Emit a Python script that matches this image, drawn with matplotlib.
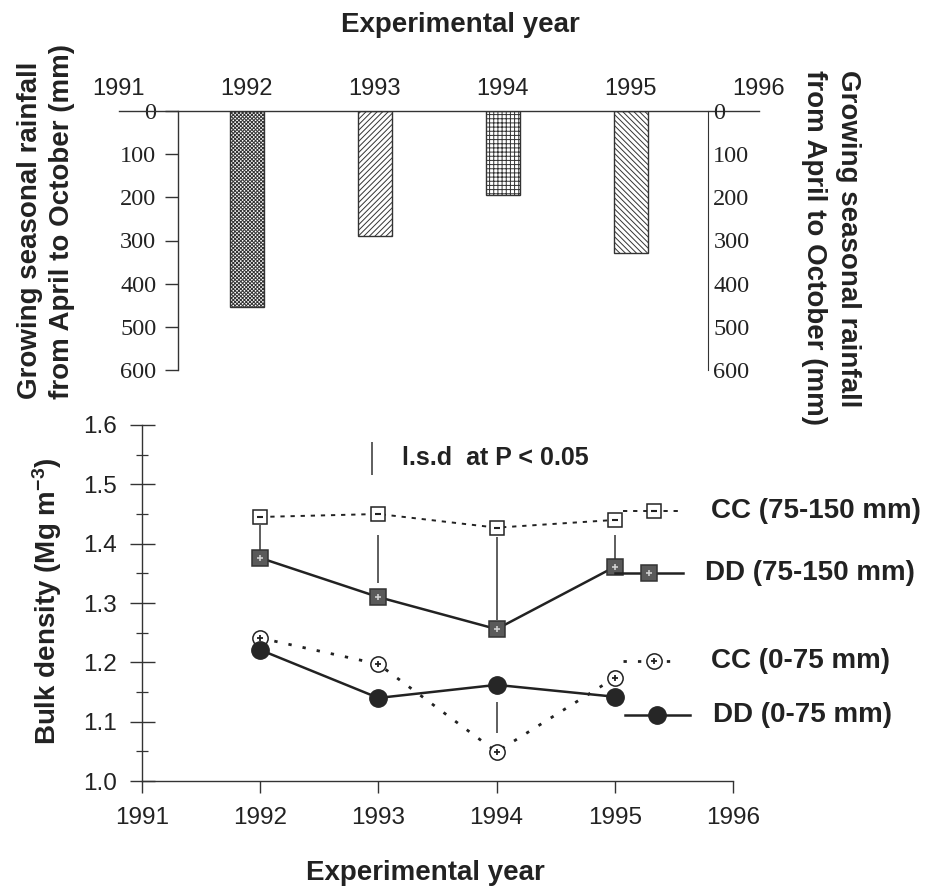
import matplotlib
matplotlib.use('Agg')
import matplotlib.pyplot as plt

plt.rcParams['font.family'] = 'Liberation Sans'
plt.rcParams['mathtext.default'] = 'regular'
plt.rcParams['hatch.linewidth'] = 0.7
plt.rcParams['hatch.color'] = '#333333'

# Growing-season rainfall (April-October), mm
years = [1992, 1993, 1994, 1995]
year_ticks = [1991, 1992, 1993, 1994, 1995, 1996]
rainfall = [454, 290, 195, 329]
rain_ticks = [0, 100, 200, 300, 400, 500, 600]
bar_hatches = ['x' * 9, '/' * 6, '+' * 4, '\\' * 6]

# Bulk density (Mg m-3) by tillage and depth
cc_deep = [1.445, 1.450, 1.427, 1.440]   # CC 75-150 mm
dd_deep = [1.376, 1.310, 1.256, 1.361]   # DD 75-150 mm
cc_top = [1.241, 1.197, 1.049, 1.174]    # CC 0-75 mm
dd_top = [1.221, 1.140, 1.162, 1.142]    # DD 0-75 mm
density_ticks = [1.0, 1.1, 1.2, 1.3, 1.4, 1.5, 1.6]
density_minor = [1.05, 1.15, 1.25, 1.35, 1.45, 1.55]

# l.s.d. bars between treatments
lsd_years = [1992, 1993, 1994, 1995, 1994]
lsd_low = [1.390, 1.334, 1.272, 1.369, 1.081]
lsd_high = [1.432, 1.415, 1.411, 1.415, 1.133]
lsd_value = 0.057

W, H = 931, 891


def box(left, top, right, bottom):
    return [left / W, 1 - bottom / H, (right - left) / W, (bottom - top) / H]


fig = plt.figure(figsize=(W / 100, H / 100), dpi=100)
ink = '#222222'

# ---- rainfall bars (hanging from zero) ----
ax1 = fig.add_axes(box(119, 111, 759, 370))
bars = ax1.bar(years, rainfall, width=0.26, color='white',
               edgecolor='#333333', linewidth=1.0)
for patch, h in zip(bars, bar_hatches):
    patch.set_hatch(h)
ax1.set_xlim(1991, 1996)
ax1.set_ylim(600, 0)
ax1.spines['bottom'].set_visible(False)
ax1.spines['right'].set_visible(False)
ax1.spines['left'].set_position(('data', 1991.46))
for s in ('top', 'left'):
    ax1.spines[s].set_color('#333333')
    ax1.spines[s].set_linewidth(1.0)
ax1.xaxis.tick_top()
ax1.set_xticks(year_ticks)
ax1.tick_params(axis='x', length=0, pad=8, labelsize=17, labelcolor=ink)
ax1.set_yticks(rain_ticks)
ax1.tick_params(axis='y', direction='out', length=9.5, width=1.0, pad=6,
                labelsize=17.5, labelcolor=ink, color='#333333',
                labelfontfamily='Liberation Serif')

ax1r = ax1.twinx()
ax1r.set_ylim(600, 0)
ax1r.set_yticks(rain_ticks)
for s in ('top', 'bottom', 'left'):
    ax1r.spines[s].set_visible(False)
ax1r.spines['right'].set_position(('data', 1995.6))
ax1r.spines['right'].set_color('#333333')
ax1r.tick_params(axis='y', length=0, pad=4, labelsize=17.5, labelcolor=ink,
                 labelfontfamily='Liberation Serif')

# ---- bulk density lines ----
ax2 = fig.add_axes(box(142, 425, 733, 781))

styles = {
    'cc_deep': dict(ls=(0, (2.2, 3)), lw=1.4, marker='s', ms=10.5, mfc='white',
                    mec=ink, mew=1.1, inner=dict(marker='_', ms=4, mew=1.5, mec=ink)),
    'dd_deep': dict(ls='-', lw=1.8, marker='s', ms=11, mfc='#5a5a5a',
                    mec='#333333', mew=1.1, inner=dict(marker='+', ms=4, mew=1.2, mec='#cfcfcf')),
    'cc_top': dict(ls=(0, (1.2, 4)), lw=2.0, marker='o', ms=11, mfc='white',
                   mec=ink, mew=1.1, inner=dict(marker='+', ms=5, mew=1.3, mec=ink)),
    'dd_top': dict(ls='-', lw=1.8, marker='o', ms=12.5, mfc='#262626',
                   mec='#262626', mew=1.0, inner=None),
}
series = [('cc_deep', cc_deep, 'CC (75-150 mm)'),
          ('dd_deep', dd_deep, 'DD (75-150 mm)'),
          ('cc_top', cc_top, 'CC (0-75 mm)'),
          ('dd_top', dd_top, 'DD (0-75 mm)')]
zorders = {'cc_deep': 4, 'dd_deep': 5, 'cc_top': 4, 'dd_top': 6}

# key entries sit beside the lines, inside the plot area
key_y = [1.455, 1.351, 1.202, 1.111]
key_line = [(1995.07, 1995.55), (1995.0, 1995.58), (1995.07, 1995.55), (1995.09, 1995.64)]
key_marker_x = [1995.33, 1995.29, 1995.33, 1995.36]
key_text_x = [1995.81, 1995.76, 1995.81, 1995.83]

ax2.vlines(lsd_years, lsd_low, lsd_high, color='#333333', lw=1.1, zorder=3)

for i, (key, vals, label) in enumerate(series):
    st = styles[key]
    z = zorders[key]
    ax2.plot(years, vals, color=ink, ls=st['ls'], lw=st['lw'], marker=st['marker'],
             ms=st['ms'], mfc=st['mfc'], mec=st['mec'], mew=st['mew'], zorder=z)
    if st['inner']:
        ax2.plot(years, vals, ls='none', zorder=z + 0.5, **st['inner'])
    # key sample
    ax2.plot(key_line[i], [key_y[i], key_y[i]], color=ink, ls=st['ls'], lw=st['lw'], zorder=z)
    ax2.plot([key_marker_x[i]], [key_y[i]], ls='none', marker=st['marker'], ms=st['ms'],
             mfc=st['mfc'], mec=st['mec'], mew=st['mew'], zorder=z + 0.2)
    if st['inner']:
        ax2.plot([key_marker_x[i]], [key_y[i]], ls='none', zorder=z + 0.5, **st['inner'])
    ax2.text(key_text_x[i], key_y[i], label, fontsize=20, fontweight='bold',
             color=ink, ha='left', va='center')

# l.s.d. scale bar
ax2.vlines(1992.95, 1.515, 1.515 + lsd_value, color='#333333', lw=1.1)
ax2.text(1993.2, 1.545, 'l.s.d  at P < 0.05', fontsize=18, fontweight='bold',
         color=ink, ha='left', va='center')

ax2.set_xlim(1991, 1996)
ax2.set_ylim(1.0, 1.6)
ax2.spines['top'].set_visible(False)
ax2.spines['right'].set_visible(False)
for s in ('left', 'bottom'):
    ax2.spines[s].set_color('#333333')
    ax2.spines[s].set_linewidth(1.0)
ax2.set_xticks(year_ticks)
ax2.set_yticks(density_ticks)
ax2.set_yticks(density_minor, minor=True)
ax2.set_yticklabels([f'{v:.1f}' for v in density_ticks])
ax2.tick_params(axis='y', which='major', direction='inout', length=18, width=1.0,
                pad=9, labelsize=17.5, labelcolor=ink, color='#333333')
ax2.tick_params(axis='y', which='minor', direction='inout', length=8, width=0.9,
                color='#333333')
ax2.tick_params(axis='x', direction='out', length=8.6, width=1.0, pad=10,
                labelsize=17.5, labelcolor=ink, color='#333333')

# ---- figure-level labels ----
fig.text(460 / W, 1 - 25 / H, 'Experimental year', fontsize=20, fontweight='bold',
         color=ink, ha='center', va='center')
fig.text(425 / W, 1 - 873 / H, 'Experimental year', fontsize=20, fontweight='bold',
         color=ink, ha='center', va='center')
fig.text(30 / W, 1 - 399 / H, 'Growing seasonal rainfall', fontsize=20,
         fontweight='bold', color=ink, rotation=90, ha='center', va='bottom')
fig.text(62 / W, 1 - 399 / H, 'from April to October (mm)', fontsize=20,
         fontweight='bold', color=ink, rotation=90, ha='center', va='bottom')
fig.text(848 / W, 1 - 70 / H, 'Growing seasonal rainfall', fontsize=20,
         fontweight='bold', color=ink, rotation=270, ha='center', va='top')
fig.text(814 / W, 1 - 70 / H, 'from April to October (mm)', fontsize=20,
         fontweight='bold', color=ink, rotation=270, ha='center', va='top')
fig.text(47 / W, 1 - 601 / H, 'Bulk density (Mg m$^{-3}$)', fontsize=20,
         fontweight='bold', color=ink, rotation=90, ha='center', va='center')

fig.savefig('out.png', dpi=100)
